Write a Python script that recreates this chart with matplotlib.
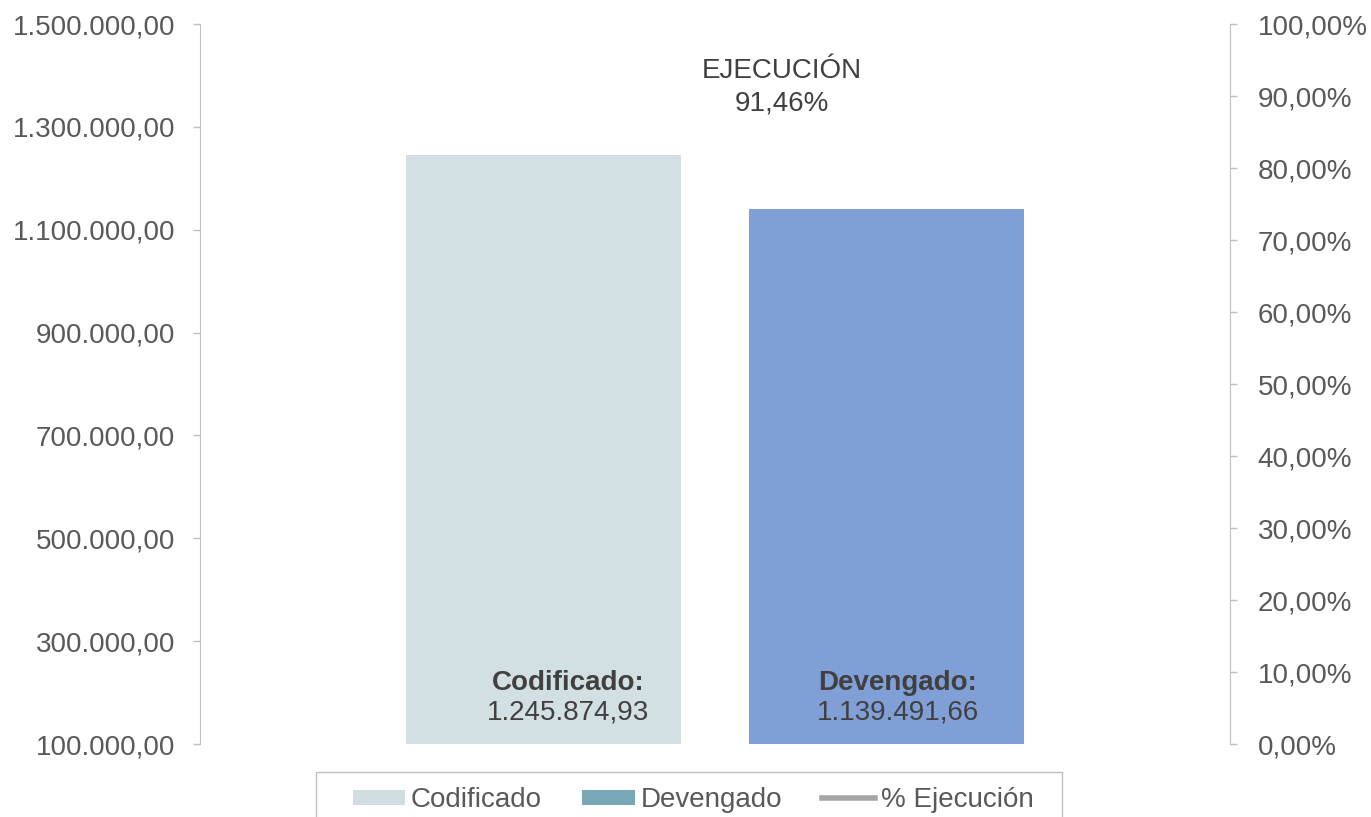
import matplotlib.pyplot as plt
from matplotlib.patches import Patch, Rectangle
from matplotlib.lines import Line2D
from matplotlib.ticker import FuncFormatter

plt.rcParams['font.family'] = ['Liberation Sans', 'DejaVu Sans']

# Data
categorias = ['Codificado', 'Devengado']
valores = [1245874.93, 1139491.66]
ejecucion = 91.46
leyenda = ['Codificado', 'Devengado', '% Ejecución']

colores_barras = ['#D2DFE3', '#7F9FD6']
colores_leyenda = ['#D0DEE2', '#78A8B8', '#A5A5A5']
gris_txt = '#595959'
gris_eje = '#BFBFBF'
FS = 20


def fmt_num(v, pos=None):
    s = f"{v:,.2f}"
    return s.replace(',', 'X').replace('.', ',').replace('X', '.')


def fmt_pct(v, pos=None):
    return f"{v:.2f}".replace('.', ',') + '%'


fig = plt.figure(figsize=(13.71, 8.17), dpi=100)
ax = fig.add_axes([200 / 1371, 1 - 744 / 817, 1030 / 1371, 720 / 817])

x = list(range(len(categorias)))
ax.bar(x, [v - 100000 for v in valores], bottom=100000, width=0.802,
       color=colores_barras, zorder=2)
ax.set_xlim(-1, 2)
ax.set_ylim(100000, 1500000)
ax.set_yticks(range(100000, 1500001, 200000))
ax.yaxis.set_major_formatter(FuncFormatter(fmt_num))
ax.set_xticks([])

for side in ['top', 'bottom', 'right']:
    ax.spines[side].set_visible(False)
ax.spines['left'].set_color(gris_eje)
ax.tick_params(axis='y', colors=gris_eje, labelcolor=gris_txt, labelsize=FS,
               length=5, width=1, pad=13, direction='out')

ax2 = ax.twinx()
ax2.set_ylim(0, 100)
ax2.set_yticks(range(0, 101, 10))
ax2.yaxis.set_major_formatter(FuncFormatter(fmt_pct))
for side in ['top', 'bottom', 'left']:
    ax2.spines[side].set_visible(False)
ax2.spines['right'].set_color(gris_eje)
ax2.tick_params(axis='y', colors=gris_eje, labelcolor=gris_txt, labelsize=FS,
                length=5, width=1, pad=15, direction='out')

# bar labels
offsets = [0.073, 0.032]
for xi, cat, v, off in zip(x, categorias, valores, offsets):
    ax.text(xi + off, 218600, cat + ':', ha='center', va='center',
            fontsize=FS, fontweight='bold', color='#404040', zorder=3)
    ax.text(xi + off, 160300, fmt_num(v), ha='center', va='center',
            fontsize=FS, color='#404040', zorder=3)

ax.text(0.565, 0.935, 'EJECUCIÓN', transform=ax.transAxes, ha='center',
        va='center', fontsize=FS, color='#404040')
ax.text(0.565, 0.889, fmt_pct(ejecucion), transform=ax.transAxes,
        ha='center', va='center', fontsize=FS, color='#404040')

handles = [Patch(facecolor=colores_leyenda[0]),
           Patch(facecolor=colores_leyenda[1]),
           Line2D([0], [0], color=colores_leyenda[2], lw=4)]
leg = fig.legend(handles, leyenda, loc='upper center',
                 bbox_to_anchor=(693 / 1371, 1 - 772 / 817), ncol=3,
                 fontsize=FS, frameon=False,
                 handlelength=1.9, handleheight=0.5, handletextpad=0.2,
                 columnspacing=1.45, borderpad=0.55, borderaxespad=0)
for t in leg.get_texts():
    t.set_color(gris_txt)

# legend frame, wider than the entries
fig.patches.append(Rectangle((316 / 1371, -0.01), 746 / 1371, (817 - 772) / 817 + 0.01,
                             transform=fig.transFigure, fill=False,
                             edgecolor=gris_eje, linewidth=1))

fig.savefig('out.png', dpi=100)
